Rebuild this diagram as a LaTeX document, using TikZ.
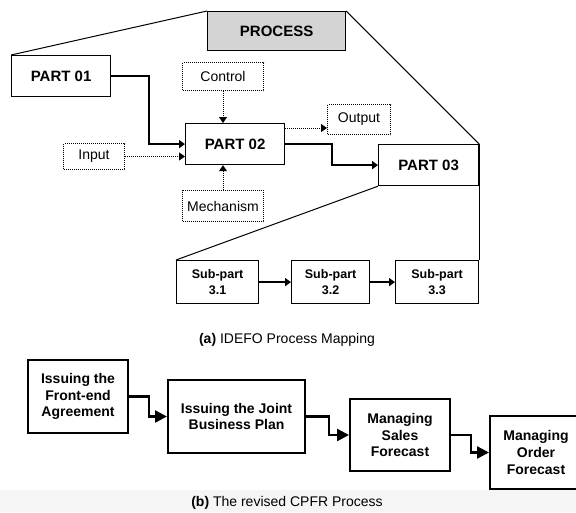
\documentclass[tikz,border=0pt]{standalone}
\usepackage{fontspec}
\setmainfont{Liberation Sans}
\usetikzlibrary{arrows.meta, positioning}

\begin{document}
\begin{tikzpicture}[x=1pt, y=-1pt,
    dims/.style 2 args={minimum width=#1pt, minimum height=#2pt},
    partbox/.style={draw, line width=1.2pt, fill=white, inner sep=0pt, anchor=north west, font=\bfseries\fontsize{15}{18}\selectfont},
    subbox/.style={partbox, align=center, font=\bfseries\fontsize{12.5}{16}\selectfont},
    icombox/.style={draw, densely dotted, line width=1pt, fill=white, inner sep=0pt, anchor=north west, font=\fontsize{14}{16}\selectfont},
    cpfrbox/.style={draw, line width=2pt, fill=white, inner sep=0pt, anchor=north west, align=center, font=\bfseries\fontsize{14}{16.7}\selectfont},
    conn/.style={line width=1.6pt, -{Triangle[length=6pt, width=8pt]}},
    dotconn/.style={line width=1pt, densely dotted, -{Triangle[length=6pt, width=8pt]}},
    bigconn/.style={line width=2.4pt, -{Triangle[length=12pt, width=12pt]}},
    funnel/.style={line width=1pt},
    caption/.style={font=\fontsize{14}{16}\selectfont}
]
    % Parametri
    \pgfmathsetmacro{\W}{576}
    \pgfmathsetmacro{\H}{512}
    \useasboundingbox (0,0) rectangle (\W,\H);
    \fill[black!4] (0,490) rectangle (\W,\H);

    % IDEF0
    \node[partbox, dims={138}{39}, fill=black!17] (proc) at (207,11) {PROCESS};
    \node[partbox, dims={99}{41}] (p1) at (11,55) {PART 01};
    \node[partbox, dims={99}{41}] (p2) at (185,123) {PART 02};
    \node[partbox, dims={100}{41}] (p3) at (378,144) {PART 03};
    \node[icombox, dims={81}{28}] (ctrl) at (182,62) {Control};
    \node[icombox, dims={63}{30}] (outp) at (327,104) {Output};
    \node[icombox, dims={61}{26}] (inp) at (63,143) {Input};
    \node[icombox, dims={81}{31}] (mech) at (182,190) {Mechanism};
    \node[subbox, dims={82}{43}] (s31) at (176,260) {Sub-part\\3.1};
    \node[subbox, dims={78}{43}] (s32) at (291,260) {Sub-part\\3.2};
    \node[subbox, dims={83}{43}] (s33) at (395,260) {Sub-part\\3.3};

    % Linee di espansione
    \draw[funnel] (p1.north west) -- (proc.north west);
    \draw[funnel] (proc.north east) -- (p3.north east);
    \draw[funnel] (p3.south west) -- (s31.north west);
    \draw[funnel] (p3.north east) -- (s33.north east);

    % Frecce
    \draw[conn] (p1.east) -- ++(38,0) |- (p2.west);
    \draw[dotconn] (inp.east) -- (inp.east -| p2.west);
    \draw[dotconn] (ctrl.south) -- (ctrl.south |- p2.north);
    \draw[dotconn] (mech.north) -- (mech.north |- p2.south);
    \draw[dotconn] ([yshift=-5pt]p2.north east) -- ([yshift=-5pt]p2.north east -| outp.west);
    \draw[conn] (p2.east) -- ++(47,0) |- (p3.west);
    \draw[conn] (s31) -- (s32);
    \draw[conn] (s32) -- (s33);

    \node[caption] (capa) at (287,340) {\textbf{(a)} IDEFO Process Mapping};

    % CPFR
    \node[cpfrbox, dims={100}{73}] (b1) at (27,359) {Issuing the\\Front-end\\Agreement};
    \node[cpfrbox, dims={137}{73}] (b2) at (167,379) {Issuing the Joint\\Business Plan};
    \node[cpfrbox, dims={100}{72}] (b3) at (349,398) {Managing\\Sales\\Forecast};
    \node[cpfrbox, dims={92}{73}] (b4) at (489,415) {Managing\\Order\\Forecast};
    \draw[bigconn] (b1.east) -- ++(20,0) |- (b2.west);
    \draw[bigconn] (b2.east) -- ++(23,0) |- (b3.west);
    \draw[bigconn] (b3.east) -- ++(20,0) |- (b4.west);

    \node[caption] (capb) at (287,503) {\textbf{(b)} The revised CPFR Process};
\end{tikzpicture}
\end{document}
